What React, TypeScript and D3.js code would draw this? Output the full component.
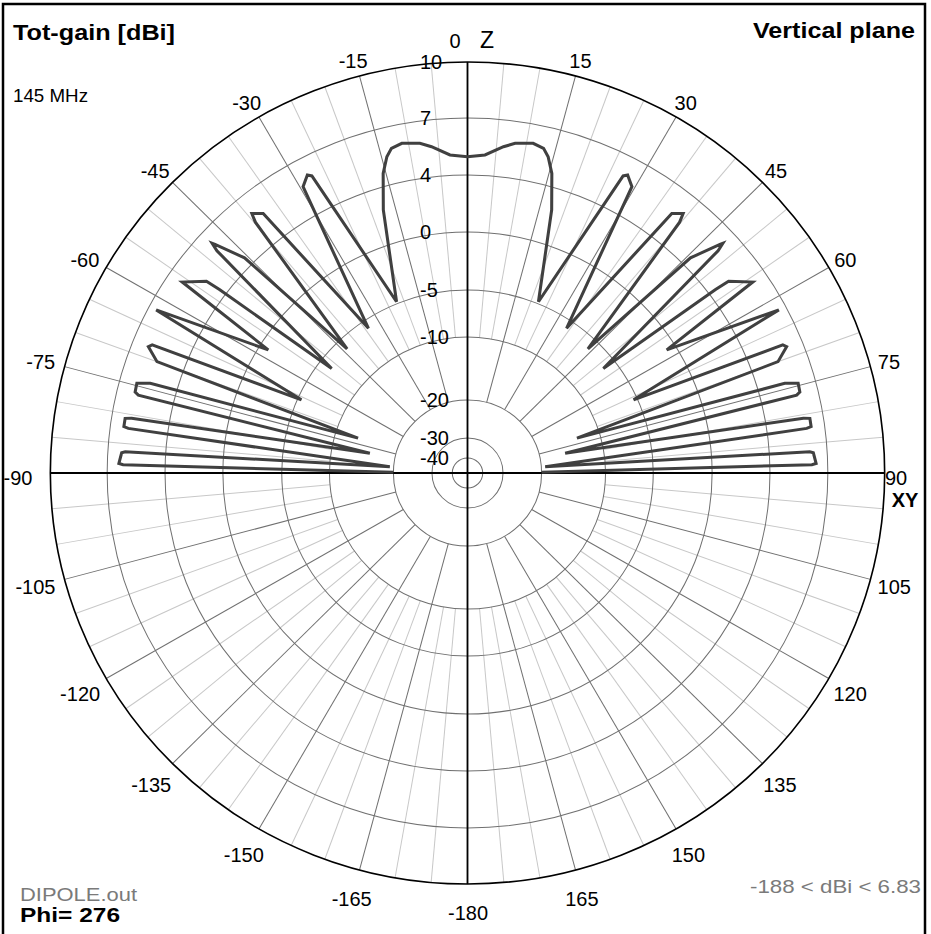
import React from 'react';
import * as d3 from 'd3';

// ---------- data ----------
const ringDb = [-40, -30, -20, -10, -5, 0, 4, 7, 10];
const ringLabels = ['-40', '-30', '-20', '-10', '-5', '0', '4', '7', '10'];
const majorAngles = d3.range(-165, 181, 15);
const minorAngles = d3.range(-175, 181, 5).filter((a) => a % 15 !== 0);
const angleLabelValues = [15, 30, 45, 60, 75, 105, 120, 135, 150, 165, -15, -30, -45, -60, -75, -105, -120, -135, -150, -165];

// half pattern [angle from zenith deg, dBi], mirrored for the other side
const patternHalf: [number, number][] = [
  [0, 4.96], [3.1, 5.08], [6.2, 5.59], [8.1, 5.84], [11.1, 6.0], [13.0, 5.85], [14.1, 5.48], [15.5, 4.68], [17.5, 2.44], [22.2, -4.83],
  [27.3, 5.91], [27.9, 6.06], [29.5, 5.63], [34.0, -5.9],
  [37.8, 5.6], [39.3, 5.97], [39.8, 5.5], [43.7, -6.2],
  [45.6, 4.5], [47.4, 6.1], [47.6, 6.25], [48.0, 5.8], [52.0, -6.4],
  [53.1, 4.4], [53.3, 5.2], [55.8, 6.2], [57.9, -0.8],
  [62.0, 6.6], [65.9, -5.4],
  [67.6, 6.0], [68.1, 6.15], [70.0, 5.45], [72.1, -13.6],
  [74.0, 5.43], [74.6, 6.1], [76.1, 6.07], [76.5, 5.87], [78.4, -16],
  [80.6, 5.97], [80.8, 6.3], [82.2, 6.3], [82.4, 6.06], [85.3, -19.4],
  [86.4, 6.1], [86.6, 6.28], [88.4, 6.4], [88.6, 6.18], [89.5, -20],
];

const titleText = 'Tot-gain [dBi]';
const planeText = 'Vertical plane';
const freqText = '145 MHz';
const fileText = 'DIPOLE.out';
const phiText = 'Phi= 276';
const rangeText = '-188 < dBi < 6.83';

// ---------- layout ----------
const W = 931;
const H = 934;
const CX = 467.5;
const CY = 473;
const SX = 1.015;
const FONT = "'Liberation Sans', Arial, sans-serif";

export default function App() {
  const r = d3.scaleLinear().domain(ringDb).range([15, 35, 73, 136, 183, 241, 298, 355, 411]).clamp(true);
  const R = r(10);
  const rad = (d: number) => (d * Math.PI) / 180;

  const full: [number, number][] = [
    ...patternHalf.slice().reverse().map(([a, v]) => [-a, v] as [number, number]),
    ...patternHalf.slice(1),
  ];
  const line = d3
    .lineRadial<[number, number]>()
    .angle((d) => rad(d[0]))
    .radius((d) => r(d[1]));

  const spoke = (a: number, r0: number, r1: number) => {
    const s = Math.sin(rad(a));
    const c = Math.cos(rad(a));
    return { x1: r0 * s, y1: -r0 * c, x2: r1 * s, y2: -r1 * c };
  };

  const labelPos = (a: number, txt: string) => {
    const s = Math.sin(rad(a));
    const c = Math.cos(rad(a));
    const w = txt.length * 11;
    const g = 8;
    return {
      x: CX + SX * s * (R + g) + (s * w) / 2,
      y: CY - c * (R + g) - (c * 16) / 2 + (c < 0 ? -c * 14 : 0),
    };
  };

  return (
    <svg
      width={W}
      height={H}
      style={{ position: 'absolute', left: 0, top: 0, background: '#fff' }}
      fontFamily={FONT}
    >
      <rect x={0} y={0} width={W} height={H} fill="#fff" />
      <rect x={3} y={4} width={922} height={945} fill="none" stroke="#000" strokeWidth={2.5} />

      <g transform={`translate(${CX},${CY}) scale(${SX},1)`}>
        {minorAngles.map((a) => (
          <line key={'mi' + a} {...spoke(a, r(-10), R)} stroke="#c8c8c8" strokeWidth={1} />
        ))}
        {majorAngles.map((a) => (
          <line key={'ma' + a} {...spoke(a, r(-20), R)} stroke="#707070" strokeWidth={1} />
        ))}
        {ringDb.slice(0, -1).map((d) => (
          <circle key={'c' + d} r={r(d)} fill="none" stroke="#707070" strokeWidth={1} />
        ))}
        <circle r={R} fill="none" stroke="#000" strokeWidth={1.6} />
        <line x1={0} y1={-R} x2={0} y2={R} stroke="#000" strokeWidth={1.8} />
        <line x1={-R} y1={0} x2={R} y2={0} stroke="#000" strokeWidth={1.8} />
        <path d={line(full) || ''} fill="none" stroke="#404040" strokeWidth={3} strokeLinejoin="miter" />
      </g>

      {/* radial dB labels */}
      {ringDb.map((d, i) => (
        <text key={'rl' + d} x={420} y={CY - r(d)} fontSize={20} dominantBaseline="central" fill="#000">
          {ringLabels[i]}
        </text>
      ))}

      {/* angle labels */}
      {angleLabelValues.map((a) => {
        const p = labelPos(a, String(a));
        return (
          <text key={'al' + a} x={p.x} y={p.y} fontSize={20} textAnchor="middle" dominantBaseline="central" fill="#000">
            {a}
          </text>
        );
      })}
      <text x={455} y={41} fontSize={20} textAnchor="middle" dominantBaseline="central">0</text>
      <text x={487} y={40} fontSize={23} textAnchor="middle" dominantBaseline="central">Z</text>
      <text x={896} y={478} fontSize={20} textAnchor="middle" dominantBaseline="central">90</text>
      <text x={905} y={500} fontSize={20} fontWeight="bold" textAnchor="middle" dominantBaseline="central">XY</text>
      <text x={18} y={478} fontSize={20} textAnchor="middle" dominantBaseline="central">-90</text>
      <text x={468} y={913} fontSize={20} textAnchor="middle" dominantBaseline="central">-180</text>

      {/* corner texts */}
      <text x={13} y={40} fontSize={22} fontWeight="bold" textLength={162} lengthAdjust="spacingAndGlyphs">{titleText}</text>
      <text x={753} y={38} fontSize={22} fontWeight="bold" textLength={162} lengthAdjust="spacingAndGlyphs">{planeText}</text>
      <text x={13} y={102} fontSize={19} textLength={75} lengthAdjust="spacingAndGlyphs">{freqText}</text>
      <text x={20} y={901} fontSize={19} fill="#7a7a7a" textLength={117} lengthAdjust="spacingAndGlyphs">{fileText}</text>
      <text x={20} y={922} fontSize={21} fontWeight="bold" textLength={100} lengthAdjust="spacingAndGlyphs">{phiText}</text>
      <text x={750} y={893} fontSize={19} fill="#7a7a7a" textLength={171} lengthAdjust="spacingAndGlyphs">{rangeText}</text>
    </svg>
  );
}
